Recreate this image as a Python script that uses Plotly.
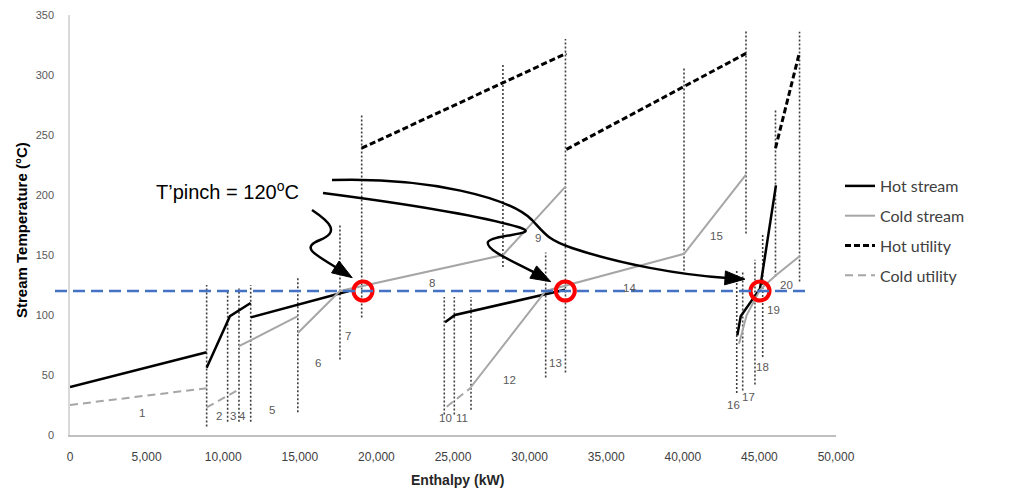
import math
import plotly.graph_objects as go

# ---------------- data ----------------
hot_stream_H = [0, 8920, None, 8920, 10440, 11790, None, 11790, 18200, None,
                24480, 25130, 32310, None, 43560, 43780, 45040, 46080]
hot_stream_T = [40, 69, None, 56, 99, 110, None, 98, 120, None,
                94, 100, 121, None, 83, 99, 122, 208]

cold_stream_H = [11030, 14870, None, 14870, 17620, 28260, 32340, None,
                 26175, 31050, 40080, 44125, None, 43670, 44170, 45040, 46060, 47620]
cold_stream_T = [74, 99, None, 85, 120, 150, 207, None,
                 40, 120, 151, 217, None, 76, 100, 121, 133, 149]

hot_utility_H = [19040, 32400, None, 32400, 44125, None, 46050, 47600]
hot_utility_T = [239, 318, None, 238, 318, None, 239, 318]

cold_utility_H = [0, 8920, None, 8920, 11030, None, 24590, 26175]
cold_utility_T = [25, 39, None, 23, 38, None, 23.5, 39.5]

boundary_H = [8920, 10290, 11030, 11795, 14870, 17620, 19040, 24430, 25085, 26175,
              28260, 31050, 32340, 40080, 44125, 43520, 43910, 44710, 45215, 46050, 47620]
boundary_low = [7, 11, 11, 11, 19, 63, 98, 17, 17, 21,
                140, 48, 52, 137, 168, 35, 37, 42, 65, 132, 128]
boundary_high = [125, 121, 122, 125, 131, 175, 268, 115, 115, 115,
                 310, 152, 330, 307, 337, 137, 136, 146, 167, 271, 336]

interval_names = [str(i) for i in range(1, 21)]
interval_H = [4700, 9726, 10640, 11290, 13185, 16190, 18150, 23630, 30550, 24480,
              25590, 28720, 31660, 36550, 42230, 43280, 44260, 45230, 45950, 46740]
interval_T = [18, 16, 16, 16, 21, 60, 82.5, 127, 164, 14,
              14, 46, 60, 122.5, 166, 25, 32, 57, 104, 125]

pinch_T = 120
pinch_points_H = [19125, 32330, 45040]
pinch_points_T = [120, 120, 120]

x_ticks = list(range(0, 50001, 5000))
y_ticks = list(range(0, 351, 50))

# ---------------- layout geometry ----------------
# page body has an 8px margin, so the figure is offset by (8, 8)
OFF = 8
W, H = 1020 - OFF, 489 - OFF
ML, MR, MT, MB = 70 - OFF, 184, 15 - OFF, 54
PW, PH = W - ML - MR, H - MT - MB
X_MAX, Y_MAX = 50000, 350

SX0, SY0 = ML + OFF, MT + OFF


def px2d(x, y):
    return (x - SX0) / PW * X_MAX, (SY0 + PH - y) / PH * Y_MAX


def px2paper(x, y):
    return (x - SX0) / PW, (SY0 + PH - y) / PH


fig = go.Figure()

# dotted interval boundaries
bx, by = [], []
for h, lo, hi in zip(boundary_H, boundary_low, boundary_high):
    bx += [h, h, None]
    by += [lo, hi, None]
fig.add_trace(go.Scatter(x=bx, y=by, mode="lines", showlegend=False, hoverinfo="skip",
                         line=dict(color="#404040", width=1.6, dash="2px,2px")))

fig.add_trace(go.Scatter(x=hot_stream_H, y=hot_stream_T, mode="lines", name="Hot stream",
                         legendgroup="a", line=dict(color="black", width=2.5)))
fig.add_trace(go.Scatter(x=cold_stream_H, y=cold_stream_T, mode="lines", name="Cold stream",
                         legendgroup="b", line=dict(color="#a6a6a6", width=2)))
fig.add_trace(go.Scatter(x=hot_utility_H, y=hot_utility_T, mode="lines", name="Hot utility",
                         legendgroup="c", line=dict(color="black", width=3, dash="6px,3px")))
fig.add_trace(go.Scatter(x=cold_utility_H, y=cold_utility_T, mode="lines", name="Cold utility",
                         legendgroup="d", line=dict(color="#a6a6a6", width=2, dash="8px,5px")))

# pinch line (extends slightly left of the y axis)
fig.add_shape(type="line", xref="paper", yref="y", x0=px2paper(55, 0)[0], x1=px2paper(807, 0)[0],
              y0=pinch_T, y1=pinch_T, layer="above",
              line=dict(color="#4472C4", width=2.5, dash="12px,6px"))

fig.add_trace(go.Scatter(x=pinch_points_H, y=pinch_points_T, mode="markers", showlegend=False,
                         hoverinfo="skip",
                         marker=dict(symbol="circle", size=19, color="rgba(0,0,0,0)",
                                     line=dict(color="#ff0000", width=4))))

# curved arrows (window-pixel control points converted to data coords)
arrows = [
    [(312, 210), (330, 222), (340, 232), (320, 240), (300, 248), (315, 254), (337, 268)],
    [(323, 193), (400, 203), (480, 216), (518, 227), (545, 235), (492, 234), (488, 242),
     (485, 250), (515, 262), (535, 273)],
    [(332, 180), (430, 177), (510, 198), (532, 220), (545, 234), (548, 240), (572, 248),
     (620, 264), (680, 275), (727, 278)],
]


def fmt(p):
    d = px2d(*p)
    return f"{d[0]:.2f},{d[1]:.3f}"


for pts in arrows:
    path = "M " + fmt(pts[0])
    for i in range(1, len(pts), 3):
        path += " C " + " ".join(fmt(p) for p in pts[i:i + 3])
    fig.add_shape(type="path", path=path, xref="x", yref="y", layer="above",
                  line=dict(color="black", width=2.5))
    (x1, y1), (x2, y2) = pts[-2], pts[-1]
    dx, dy = x2 - x1, y2 - y1
    n = math.hypot(dx, dy)
    ux, uy = dx / n, dy / n
    L, Wd = 18, 14
    tip = (x2 + ux * L, y2 + uy * L)
    base = (x2 - ux * 2, y2 - uy * 2)
    left = (base[0] - uy * Wd / 2, base[1] + ux * Wd / 2)
    right = (base[0] + uy * Wd / 2, base[1] - ux * Wd / 2)
    tri = f"M {fmt(tip)} L {fmt(left)} L {fmt(right)} Z"
    fig.add_shape(type="path", path=tri, xref="x", yref="y", layer="above",
                  fillcolor="black", line=dict(color="black", width=1))

# interval labels
for name, hx, ty in zip(interval_names, interval_H, interval_T):
    fig.add_annotation(x=hx, y=ty, text=name, showarrow=False, xref="x", yref="y",
                       xanchor="center", yanchor="middle",
                       font=dict(family="Liberation Sans, Arial", size=11.5, color="#595959"))

# T'pinch annotation
tx, ty = px2d(227, 190)
fig.add_annotation(x=tx, y=ty, text="T’pinch = 120<sup>o</sup>C", showarrow=False,
                   xref="x", yref="y", xanchor="center", yanchor="middle",
                   font=dict(family="Liberation Sans, Arial", size=20, color="black"))

# axis titles
xt = px2paper(457, 480)
fig.add_annotation(x=xt[0], y=xt[1], xref="paper", yref="paper", xanchor="center",
                   yanchor="middle", text="<b>Enthalpy (kW)</b>", showarrow=False,
                   font=dict(family="Liberation Sans Narrow, Liberation Sans, Arial", size=14,
                             color="#262626"))
yt = px2paper(22, 230)
fig.add_annotation(x=yt[0], y=yt[1], xref="paper", yref="paper", xanchor="center",
                   yanchor="middle", text="<b>Stream Temperature (°C)</b>", showarrow=False,
                   textangle=-90,
                   font=dict(family="Liberation Sans, Arial", size=15, color="black"))

lg = px2paper(840, 169)
fig.update_layout(
    width=W, height=H,
    margin=dict(l=ML, r=MR, t=MT, b=MB, autoexpand=False),
    paper_bgcolor="white", plot_bgcolor="white",
    showlegend=True,
    legend=dict(x=lg[0], xanchor="left", y=lg[1], yanchor="top",
                font=dict(family="Lato, Open Sans", size=16, color="#404040"),
                tracegroupgap=6, bgcolor="rgba(0,0,0,0)"),
    xaxis=dict(range=[0, X_MAX], tickvals=x_ticks, tickformat=",d", showgrid=False,
               zeroline=False, showline=True, linecolor="#bfbfbf", linewidth=1.5,
               ticks="", ticklabelstandoff=10, automargin=False,
               tickfont=dict(family="Liberation Sans Narrow, Liberation Sans, Arial", size=12,
                             color="#404040")),
    yaxis=dict(range=[0, Y_MAX], tickvals=y_ticks, showgrid=False, zeroline=False,
               showline=True, linecolor="#d9d9d9", linewidth=1.5, ticks="",
               ticklabelstandoff=12, automargin=False,
               tickfont=dict(family="Liberation Sans, Arial", size=11, color="#595959")),
)

fig.write_html("out.html")
